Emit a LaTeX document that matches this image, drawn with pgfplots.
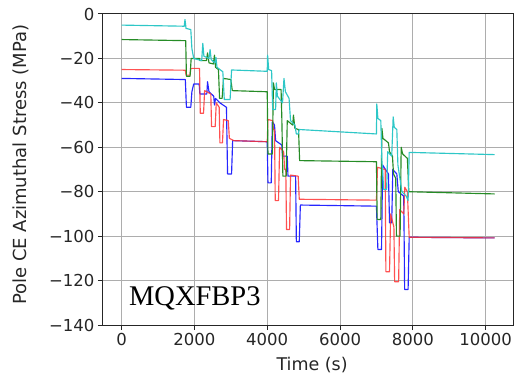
\documentclass[border=0pt]{standalone}
\usepackage{pgfplots}
\pgfplotsset{compat=1.18}
\usepackage{fontspec}
\setmainfont{DejaVu Sans}
\newfontfamily\serifmq{Liberation Serif}
\definecolor{cC}{rgb}{0.18,0.78,0.78}
\definecolor{cG}{rgb}{0.15,0.55,0.15}
\definecolor{cR}{rgb}{1.0,0.2,0.2}
\definecolor{cB}{rgb}{0.15,0.15,1.0}
\begin{document}
\begin{tikzpicture}
\begin{axis}[
  scale only axis, width=410pt, height=311pt,
  xmin=-512, xmax=10752, ymin=-140, ymax=0,
  xtick={0,2000,4000,6000,8000,10000},
  xticklabels={0,2000,4000,6000,8000,10000},
  ytick={-140,-120,-100,-80,-60,-40,-20,0},
  yticklabels={−140,−120,−100,−80,−60,−40,−20,0},
  scaled x ticks=false,
  tick align=outside, tick pos=left, major tick length=5pt,
  grid=major, grid style={black!32, line width=1pt},
  axis line style={black!85, line width=1pt},
  tick style={black!85, line width=1pt},
  tick label style={font=\fontsize{16.5}{19}\selectfont, black!85},
  xlabel={Time (s)}, ylabel={Pole CE Azimuthal Stress (MPa)},
  xlabel style={font=\fontsize{17.5}{20}\selectfont, black!85, at={(axis description cs:0.51,-0.129)}, anchor=center},
  ylabel style={font=\fontsize{18}{20}\selectfont, black!85, at={(axis description cs:-0.2,0.515)}, anchor=center, rotate=0},
  no marks, every axis plot/.append style={line width=1.15pt, line join=round},
  clip=true,
]
\addplot[cB] coordinates {(0,-29)(1750,-29.5)(1780,-42)(1900,-42)(1930,-35)(1980,-31.5)(2130,-31.5)(2150,-36)(2340,-36)(2360,-30.5)(2400,-35)(2530,-37)(2550,-41)(2580,-38)(2700,-40)(2880,-42)(2910,-72)(3020,-72)(3050,-57)(4000,-57.5)(4020,-76)(4110,-76)(4140,-48.5)(4200,-50)(4230,-57)(4400,-59)(4420,-64)(4550,-64)(4570,-73)(4780,-73)(4800,-102.5)(4880,-102.5)(4910,-86)(7000,-86.5)(7040,-106)(7140,-106)(7170,-68)(7330,-72)(7360,-94)(7420,-94)(7450,-70)(7560,-72)(7600,-80)(7750,-82)(7775,-124)(7870,-124)(7900,-100.5)(10250,-100.8)};
\addplot[cR, opacity=0.85] coordinates {(0,-25)(1750,-25.3)(1770,-27.5)(1880,-27.5)(1900,-24.5)(2140,-24.5)(2160,-44.7)(2250,-44.7)(2280,-34.5)(2450,-36)(2470,-50.7)(2570,-50.7)(2600,-40)(2680,-42)(2700,-58)(2770,-58)(2800,-47.5)(2930,-48)(2960,-56)(3080,-57)(4000,-57.5)(4020,-47.5)(4150,-48)(4170,-52)(4200,-52)(4220,-84)(4310,-84)(4340,-60)(4450,-62)(4480,-70)(4510,-70)(4530,-97)(4615,-97)(4640,-72.5)(4850,-73)(4880,-83.4)(7000,-83.8)(7030,-69)(7240,-70)(7260,-116)(7360,-116)(7390,-90)(7480,-96)(7500,-120.5)(7610,-120.5)(7640,-88)(7750,-90)(7780,-78)(7850,-80)(7900,-100.5)(10250,-100.8)};
\addplot[cG] coordinates {(0,-11.5)(1760,-12)(1780,-28)(1880,-28)(1910,-20)(2140,-20)(2150,-21)(2330,-21)(2360,-17.5)(2400,-22)(2520,-22.5)(2550,-18.5)(2580,-24)(2660,-25)(2690,-38)(2760,-38)(2800,-29)(3000,-29.5)(3040,-34.5)(4000,-35)(4020,-63)(4140,-63)(4170,-31)(4200,-34)(4380,-34)(4400,-46)(4430,-73)(4520,-73)(4550,-48)(4700,-50)(4720,-45.5)(4760,-51.5)(4860,-52)(4890,-66)(7000,-66.5)(7020,-92.5)(7120,-92.5)(7150,-51.5)(7180,-56)(7330,-58)(7360,-62)(7440,-64)(7470,-72)(7530,-74)(7550,-100)(7650,-100)(7680,-60)(7720,-63)(7850,-65)(7890,-80)(10250,-81)};
\addplot[cC] coordinates {(0,-5)(1720,-5.5)(1740,-2.5)(1770,-6.5)(1900,-7)(1930,-15.5)(1980,-20)(2200,-21)(2230,-13.2)(2260,-19)(2400,-20)(2430,-16)(2460,-20.5)(2560,-22)(2590,-19.5)(2620,-24)(2780,-26)(2820,-38.5)(2980,-38.5)(3020,-25.2)(4000,-25.8)(4010,-18.5)(4040,-25)(4120,-25.5)(4150,-43)(4230,-43)(4250,-31)(4280,-37)(4420,-40)(4460,-29)(4500,-35)(4600,-38)(4640,-48)(4760,-50)(4800,-54)(4850,-54)(4880,-52)(7000,-54)(7010,-40.5)(7040,-47)(7120,-48)(7150,-66)(7200,-79)(7280,-79)(7310,-62)(7420,-64)(7460,-46.3)(7490,-51)(7560,-52)(7590,-68)(7700,-80)(7820,-82)(7870,-84)(7900,-62.3)(10250,-63.3)};
\node[anchor=base west, font=\serifmq\fontsize{28.5}{30}\selectfont, inner sep=0pt] at (axis cs:200,-131) {MQXFBP3};
\end{axis}
\pgfresetboundingbox
\path ([shift={(-103pt,-60pt)}]current axis.south west) rectangle ([shift={(3pt,14pt)}]current axis.north east);
\end{tikzpicture}
\end{document}
